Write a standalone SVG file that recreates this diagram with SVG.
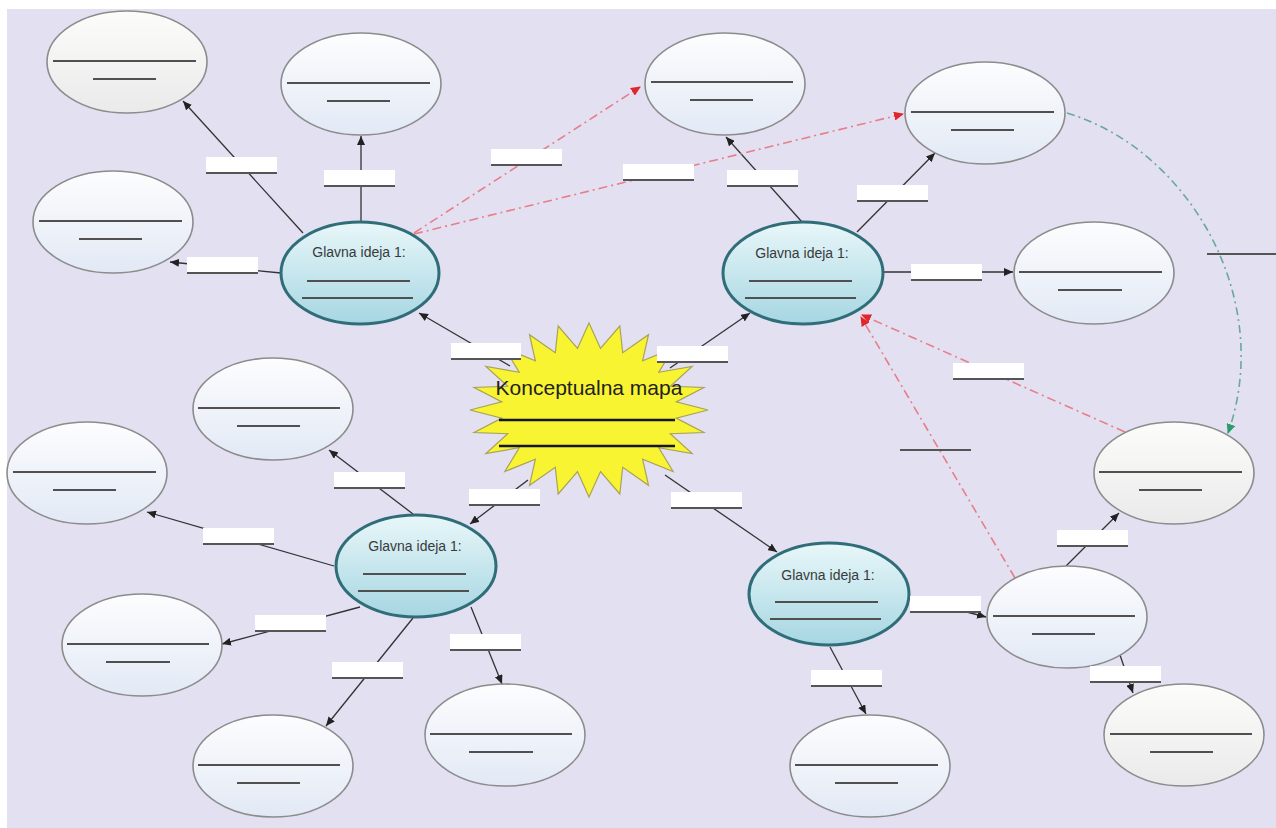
<svg xmlns="http://www.w3.org/2000/svg" width="1276" height="828" viewBox="0 0 1276 828">
<defs>
<linearGradient id="gLeaf" x1="0" y1="0" x2="0" y2="1"><stop offset="0" stop-color="#fdfdfe"/><stop offset="1" stop-color="#e2e9f5"/></linearGradient>
<linearGradient id="gGray" x1="0" y1="0" x2="0" y2="1"><stop offset="0" stop-color="#fcfcfb"/><stop offset="1" stop-color="#eaeaea"/></linearGradient>
<linearGradient id="gMain" x1="0" y1="0" x2="0" y2="1"><stop offset="0" stop-color="#e8f7f9"/><stop offset="1" stop-color="#a6d6e2"/></linearGradient>
<marker id="aB" markerUnits="userSpaceOnUse" markerWidth="9" markerHeight="8" refX="9" refY="4" orient="auto"><path d="M0,0 L9,4 L0,8 z" fill="#222"/></marker>
<marker id="aR" markerUnits="userSpaceOnUse" markerWidth="10" markerHeight="9" refX="9" refY="4.5" orient="auto"><path d="M0,0 L10,4.5 L0,9 z" fill="#e0282c"/></marker>
<marker id="aG" markerUnits="userSpaceOnUse" markerWidth="10" markerHeight="9" refX="9" refY="4.5" orient="auto"><path d="M0,0 L10,4.5 L0,9 z" fill="#2a9d6e"/></marker>
</defs>
<style>
.leaf{fill:url(#gLeaf);stroke:#8c8c8c;stroke-width:1.6}
.gray{fill:url(#gGray);stroke:#8c8c8c;stroke-width:1.6}
.main{fill:url(#gMain);stroke:#2f6d78;stroke-width:3}
.ln{stroke:#505050;stroke-width:2}
.mt{font-family:"Liberation Sans",Arial,sans-serif;font-size:14px;fill:#3a3a3a;text-anchor:middle}
.c{stroke:#333;stroke-width:1.3;fill:none;marker-end:url(#aB)}
.r{stroke:#e77f88;stroke-width:1.6;fill:none;stroke-dasharray:9 4 2 4;marker-end:url(#aR)}
.g{stroke:#6aa89a;stroke-width:1.6;fill:none;stroke-dasharray:8 4 2 4;marker-end:url(#aG)}
.lb{fill:#ffffff}
.ul{stroke:#555;stroke-width:2}
</style>
<rect x="0" y="0" width="1276" height="828" fill="#ffffff"/>
<rect x="7" y="9" width="1269" height="819" fill="#e3e0f1"/>

<g id="connectors">
<line class="c" x1="510" y1="366" x2="419" y2="313"/>
<line class="c" x1="670" y1="368" x2="750" y2="313"/>
<line class="c" x1="528" y1="480" x2="470" y2="524"/>
<line class="c" x1="665" y1="475" x2="777" y2="552"/>
<line class="c" x1="303" y1="233" x2="183" y2="101"/>
<line class="c" x1="361" y1="222" x2="361" y2="136"/>
<line class="c" x1="281" y1="273" x2="170" y2="262"/>
<line class="c" x1="802" y1="222" x2="726" y2="137"/>
<line class="c" x1="857" y1="232" x2="935" y2="153"/>
<line class="c" x1="883" y1="272" x2="1013" y2="272"/>
<line class="c" x1="413" y1="514" x2="329" y2="450"/>
<line class="c" x1="334" y1="566" x2="147" y2="512"/>
<line class="c" x1="360" y1="607" x2="222" y2="644"/>
<line class="c" x1="413" y1="618" x2="326" y2="726"/>
<line class="c" x1="471" y1="607" x2="502" y2="684"/>
<line class="c" x1="909" y1="597" x2="986" y2="617"/>
<line class="c" x1="830" y1="647" x2="866" y2="714"/>
<line class="c" x1="1066" y1="566" x2="1119" y2="513"/>
<line class="c" x1="1120" y1="655" x2="1133" y2="693"/>
<line class="r" x1="414" y1="233" x2="640" y2="87"/>
<line class="r" x1="414" y1="234" x2="903" y2="114"/>
<line class="r" x1="1125" y1="432" x2="862" y2="315"/>
<line class="r" x1="1015" y1="578" x2="861" y2="317"/>
<path class="g" d="M1067,113 C1190,150 1275,300 1228,433"/>
</g>

<g id="star">
<polygon points="589,323 600.5,348.5 619.8,326 622.7,352.7 648.5,334.7 642.6,360.8 673.1,348.5 658.8,372.3 692.1,366.5 670.3,386.3 703.9,387.5 676.2,401.9 708,410 676.2,418.1 703.9,432.5 670.3,433.7 692.1,453.5 658.8,447.7 673.1,471.5 642.6,459.2 648.5,485.3 622.7,467.3 619.8,494 600.5,471.5 589,497 577.5,471.5 558.2,494 555.3,467.3 529.5,485.3 535.4,459.2 504.9,471.5 519.2,447.7 485.9,453.5 507.7,433.7 474.1,432.5 501.8,418.1 470,410 501.8,401.9 474.1,387.5 507.7,386.3 485.9,366.5 519.2,372.3 504.9,348.5 535.4,360.8 529.5,334.7 555.3,352.7 558.2,326 577.5,348.5" fill="#f9f431" stroke="#a8a25a" stroke-width="1.2"/>
<text x="589" y="395" font-family="'Liberation Sans',Arial,sans-serif" font-size="21" fill="#222" text-anchor="middle">Konceptualna mapa</text>
<line x1="499" y1="420" x2="675" y2="420" stroke="#151515" stroke-width="2.6"/>
<line x1="499" y1="446" x2="675" y2="446" stroke="#151515" stroke-width="2.6"/>
</g>

<g id="main1"><ellipse class="main" cx="360" cy="273" rx="79" ry="51"/><text class="mt" x="359" y="257">Glavna ideja 1:</text><line class="ln" x1="307" y1="281" x2="410" y2="281"/><line class="ln" x1="302" y1="298" x2="413" y2="298"/></g>
<g id="main2"><ellipse class="main" cx="803" cy="273" rx="80" ry="51"/><text class="mt" x="802" y="258">Glavna ideja 1:</text><line class="ln" x1="749" y1="281" x2="852" y2="281"/><line class="ln" x1="745" y1="298" x2="856" y2="298"/></g>
<g id="main3"><ellipse class="main" cx="416" cy="566" rx="80" ry="51"/><text class="mt" x="415" y="551">Glavna ideja 1:</text><line class="ln" x1="363" y1="574" x2="466" y2="574"/><line class="ln" x1="358" y1="591" x2="469" y2="591"/></g>
<g id="main4"><ellipse class="main" cx="829" cy="594" rx="80" ry="51"/><text class="mt" x="828" y="580">Glavna ideja 1:</text><line class="ln" x1="775" y1="602" x2="878" y2="602"/><line class="ln" x1="770" y1="619" x2="881" y2="619"/></g>

<g id="leaf1"><ellipse class="gray" cx="127" cy="62" rx="80" ry="51"/><line class="ln" x1="53" y1="61" x2="196" y2="61"/><line class="ln" x1="93" y1="79" x2="156" y2="79"/></g>
<g id="leaf2"><ellipse class="leaf" cx="361" cy="84" rx="80" ry="51"/><line class="ln" x1="287" y1="83" x2="430" y2="83"/><line class="ln" x1="327" y1="101" x2="390" y2="101"/></g>
<g id="leaf3"><ellipse class="leaf" cx="113" cy="222" rx="80" ry="51"/><line class="ln" x1="39" y1="221" x2="182" y2="221"/><line class="ln" x1="79" y1="239" x2="142" y2="239"/></g>
<g id="leaf4"><ellipse class="leaf" cx="725" cy="84" rx="80" ry="51"/><line class="ln" x1="651" y1="82" x2="793" y2="82"/><line class="ln" x1="690" y1="100" x2="753" y2="100"/></g>
<g id="leaf5"><ellipse class="leaf" cx="985" cy="113" rx="80" ry="51"/><line class="ln" x1="911" y1="112" x2="1054" y2="112"/><line class="ln" x1="951" y1="130" x2="1014" y2="130"/></g>
<g id="leaf6"><ellipse class="leaf" cx="1094" cy="273" rx="80" ry="51"/><line class="ln" x1="1019" y1="272" x2="1162" y2="272"/><line class="ln" x1="1058" y1="290" x2="1122" y2="290"/></g>
<g id="leaf7"><ellipse class="gray" cx="1174" cy="473" rx="80" ry="51"/><line class="ln" x1="1099" y1="472" x2="1242" y2="472"/><line class="ln" x1="1139" y1="490" x2="1202" y2="490"/></g>
<g id="leaf8"><ellipse class="leaf" cx="1067" cy="617" rx="80" ry="51"/><line class="ln" x1="993" y1="616" x2="1135" y2="616"/><line class="ln" x1="1032" y1="634" x2="1095" y2="634"/></g>
<g id="leaf9"><ellipse class="gray" cx="1184" cy="735" rx="80" ry="51"/><line class="ln" x1="1110" y1="734" x2="1252" y2="734"/><line class="ln" x1="1150" y1="752" x2="1213" y2="752"/></g>
<g id="leaf10"><ellipse class="leaf" cx="870" cy="766" rx="80" ry="51"/><line class="ln" x1="795" y1="765" x2="938" y2="765"/><line class="ln" x1="835" y1="783" x2="898" y2="783"/></g>
<g id="leaf11"><ellipse class="leaf" cx="273" cy="409" rx="80" ry="51"/><line class="ln" x1="198" y1="408" x2="340" y2="408"/><line class="ln" x1="237" y1="426" x2="300" y2="426"/></g>
<g id="leaf12"><ellipse class="leaf" cx="87" cy="473" rx="80" ry="51"/><line class="ln" x1="13" y1="472" x2="156" y2="472"/><line class="ln" x1="53" y1="490" x2="116" y2="490"/></g>
<g id="leaf13"><ellipse class="leaf" cx="142" cy="645" rx="80" ry="51"/><line class="ln" x1="67" y1="644" x2="209" y2="644"/><line class="ln" x1="106" y1="662" x2="170" y2="662"/></g>
<g id="leaf14"><ellipse class="leaf" cx="273" cy="766" rx="80" ry="51"/><line class="ln" x1="198" y1="765" x2="340" y2="765"/><line class="ln" x1="237" y1="783" x2="300" y2="783"/></g>
<g id="leaf15"><ellipse class="leaf" cx="505" cy="735" rx="80" ry="51"/><line class="ln" x1="430" y1="734" x2="572" y2="734"/><line class="ln" x1="469" y1="752" x2="533" y2="752"/></g>

<g id="labels">
<g><rect class="lb" x="206" y="157" width="71" height="16"/><line class="ul" x1="206" y1="173" x2="277" y2="173"/></g>
<g><rect class="lb" x="324" y="170" width="71" height="16"/><line class="ul" x1="324" y1="186" x2="395" y2="186"/></g>
<g><rect class="lb" x="187" y="257" width="71" height="16"/><line class="ul" x1="187" y1="273" x2="258" y2="273"/></g>
<g><rect class="lb" x="451" y="343" width="70" height="16"/><line class="ul" x1="451" y1="359" x2="521" y2="359"/></g>
<g><rect class="lb" x="657" y="346" width="71" height="16"/><line class="ul" x1="657" y1="362" x2="728" y2="362"/></g>
<g><rect class="lb" x="469" y="489" width="71" height="16"/><line class="ul" x1="469" y1="505" x2="540" y2="505"/></g>
<g><rect class="lb" x="671" y="492" width="71" height="16"/><line class="ul" x1="671" y1="508" x2="742" y2="508"/></g>
<g><rect class="lb" x="727" y="170" width="71" height="16"/><line class="ul" x1="727" y1="186" x2="798" y2="186"/></g>
<g><rect class="lb" x="857" y="185" width="71" height="16"/><line class="ul" x1="857" y1="201" x2="928" y2="201"/></g>
<g><rect class="lb" x="911" y="264" width="71" height="16"/><line class="ul" x1="911" y1="280" x2="982" y2="280"/></g>
<g><rect class="lb" x="491" y="149" width="71" height="16"/><line class="ul" x1="491" y1="165" x2="562" y2="165"/></g>
<g><rect class="lb" x="623" y="164" width="71" height="16"/><line class="ul" x1="623" y1="180" x2="694" y2="180"/></g>
<g><rect class="lb" x="953" y="363" width="71" height="16"/><line class="ul" x1="953" y1="379" x2="1024" y2="379"/></g>
<g><rect class="lb" x="334" y="472" width="71" height="16"/><line class="ul" x1="334" y1="488" x2="405" y2="488"/></g>
<g><rect class="lb" x="203" y="528" width="71" height="16"/><line class="ul" x1="203" y1="544" x2="274" y2="544"/></g>
<g><rect class="lb" x="255" y="615" width="71" height="16"/><line class="ul" x1="255" y1="631" x2="326" y2="631"/></g>
<g><rect class="lb" x="332" y="662" width="71" height="16"/><line class="ul" x1="332" y1="678" x2="403" y2="678"/></g>
<g><rect class="lb" x="450" y="634" width="71" height="16"/><line class="ul" x1="450" y1="650" x2="521" y2="650"/></g>
<g><rect class="lb" x="910" y="596" width="71" height="16"/><line class="ul" x1="910" y1="612" x2="981" y2="612"/></g>
<g><rect class="lb" x="811" y="670" width="71" height="16"/><line class="ul" x1="811" y1="686" x2="882" y2="686"/></g>
<g><rect class="lb" x="1057" y="530" width="71" height="16"/><line class="ul" x1="1057" y1="546" x2="1128" y2="546"/></g>
<g><rect class="lb" x="1090" y="666" width="71" height="16"/><line class="ul" x1="1090" y1="682" x2="1161" y2="682"/></g>
<line class="ul" x1="900" y1="450" x2="971" y2="450"/>
<line class="ul" x1="1207" y1="254" x2="1276" y2="254"/>
</g>
</svg>
